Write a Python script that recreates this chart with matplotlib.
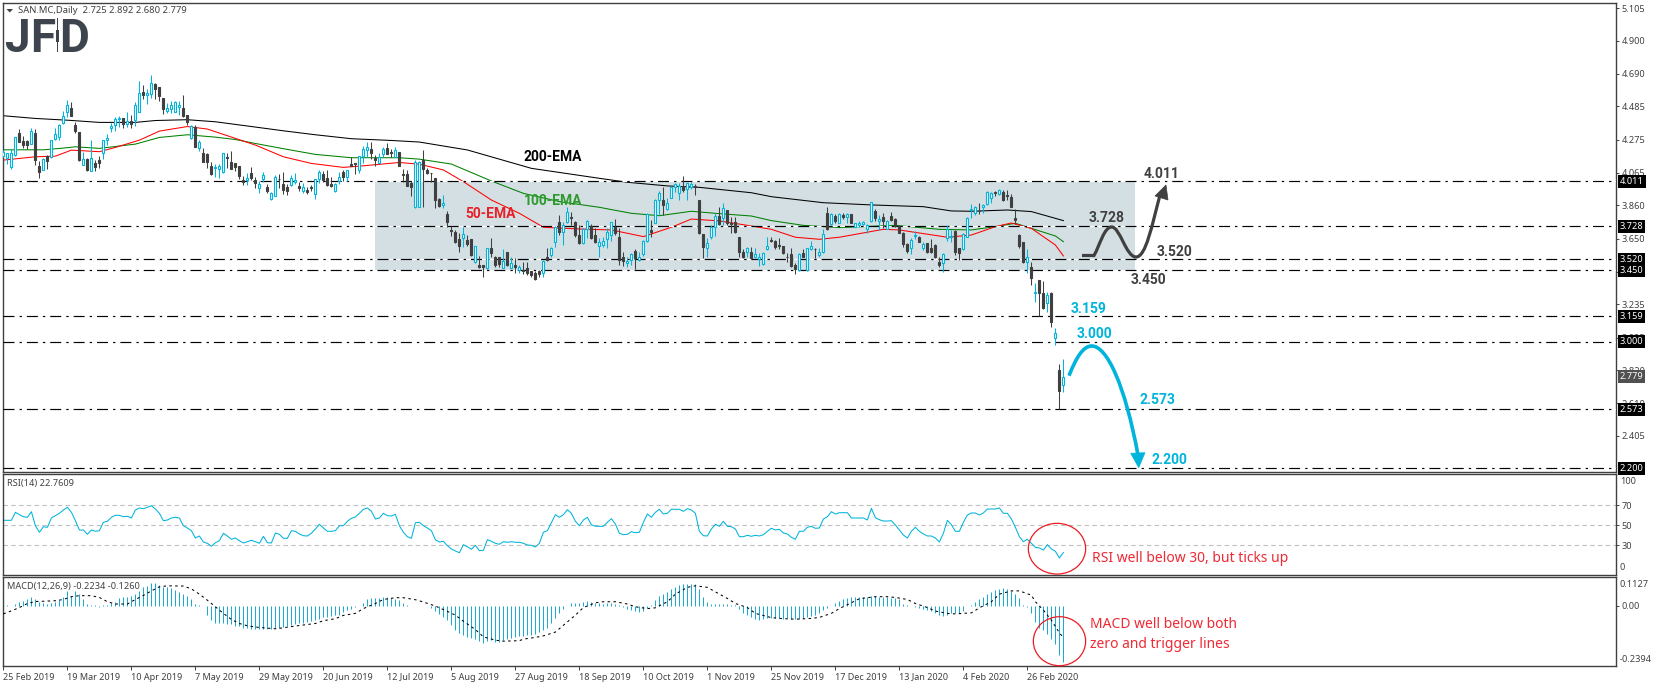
import numpy as np
import matplotlib
matplotlib.use("Agg")
import matplotlib.pyplot as plt
from matplotlib.patches import PathPatch, Polygon, Ellipse, Rectangle
from matplotlib.path import Path
from matplotlib.transforms import Affine2D

W, H = 1655, 687
plt.rcParams['font.family'] = ['Noto Sans', 'DejaVu Sans']

##========== price data ==========
opens = [4.171,4.161,4.104,4.178,4.314,4.268,4.266,4.249,4.316,4.108,
    4.085,4.171,4.163,4.281,4.293,4.382,4.451,4.474,4.365,4.323,
    4.117,4.154,4.079,4.127,4.144,4.194,4.274,4.346,4.365,4.403,
    4.409,4.371,4.390,4.398,4.451,4.575,4.554,4.565,4.626,4.605,
    4.535,4.459,4.468,4.451,4.483,4.472,4.428,4.287,4.354,4.224,
    4.194,4.184,4.108,4.093,4.091,4.072,4.165,4.131,4.125,4.108,
    4.018,4.022,4.062,4.018,3.972,4.028,3.976,3.902,3.921,4.028,
    3.995,3.976,3.988,4.009,3.980,3.953,3.955,3.976,3.934,4.026,
    4.056,4.033,3.993,3.953,4.016,4.068,4.039,4.119,4.125,4.085,
    4.169,4.211,4.215,4.161,4.127,4.184,4.224,4.197,4.165,4.197,
    4.058,4.056,4.003,3.847,3.848,4.147,4.084,4.067,4.031,3.901,
    3.863,3.806,3.705,3.690,3.646,3.652,3.642,3.646,3.501,3.484,
    3.484,3.463,3.589,3.537,3.533,3.467,3.568,3.467,3.484,3.453,
    3.453,3.463,3.446,3.432,3.446,3.436,3.537,3.547,3.631,3.758,
    3.694,3.753,3.789,3.758,3.673,3.621,3.709,3.730,3.673,3.606,
    3.610,3.648,3.673,3.726,3.663,3.537,3.499,3.516,3.572,3.516,
    3.551,3.636,3.705,3.751,3.894,3.894,3.835,3.909,3.978,3.940,
    3.982,3.962,3.974,3.982,3.894,3.680,3.589,3.663,3.722,3.793,
    3.783,3.831,3.747,3.758,3.659,3.568,3.564,3.568,3.533,3.520,
    3.488,3.583,3.642,3.636,3.608,3.604,3.537,3.553,3.484,3.453,
    3.558,3.453,3.583,3.587,3.547,3.568,3.810,3.741,3.793,3.751,
    3.802,3.789,3.804,3.726,3.737,3.745,3.709,3.762,3.825,3.760,
    3.785,3.713,3.793,3.774,3.730,3.688,3.617,3.594,3.667,3.663,
    3.594,3.621,3.589,3.610,3.501,3.499,3.652,3.663,3.699,3.589,
    3.583,3.663,3.831,3.814,3.827,3.852,3.869,3.905,3.945,3.934,
    3.947,3.924,3.913,3.779,3.673,3.627,3.501,3.474,3.310,3.387,
    3.305,3.246,3.307,3.021,2.822,2.725]
closes = [4.199,4.190,4.188,4.289,4.262,4.241,4.243,4.327,4.146,4.072,
    4.150,4.142,4.272,4.308,4.365,4.422,4.491,4.426,4.331,4.146,
    4.150,4.083,4.157,4.102,4.127,4.272,4.283,4.361,4.403,4.411,
    4.375,4.396,4.371,4.491,4.567,4.556,4.567,4.630,4.594,4.552,
    4.468,4.472,4.491,4.512,4.497,4.426,4.388,4.361,4.230,4.258,
    4.136,4.136,4.058,4.102,4.106,4.190,4.157,4.091,4.104,4.047,
    4.009,4.033,4.033,4.001,3.993,4.049,3.950,3.936,4.039,4.024,
    3.957,3.950,4.030,4.018,3.972,3.974,3.944,3.972,4.024,4.068,
    4.020,3.988,3.984,3.997,4.037,4.041,4.081,4.110,4.119,4.169,
    4.213,4.226,4.190,4.148,4.165,4.215,4.186,4.190,4.207,4.110,
    4.054,3.984,3.976,4.136,4.136,4.088,4.067,4.062,3.894,3.858,
    3.873,3.758,3.701,3.631,3.604,3.680,3.617,3.547,3.604,3.469,
    3.469,3.589,3.558,3.484,3.490,3.509,3.484,3.499,3.469,3.474,
    3.448,3.432,3.421,3.396,3.425,3.509,3.516,3.589,3.726,3.690,
    3.737,3.821,3.779,3.673,3.621,3.709,3.762,3.652,3.631,3.627,
    3.638,3.690,3.753,3.684,3.516,3.511,3.509,3.551,3.530,3.533,
    3.636,3.804,3.694,3.894,3.936,3.863,3.877,3.978,3.993,3.982,
    3.957,3.999,3.993,3.974,3.684,3.600,3.621,3.722,3.793,3.743,
    3.842,3.747,3.743,3.694,3.568,3.537,3.589,3.526,3.551,3.537,
    3.558,3.606,3.638,3.600,3.604,3.558,3.533,3.480,3.459,3.553,
    3.537,3.589,3.602,3.583,3.568,3.680,3.709,3.804,3.764,3.806,
    3.785,3.804,3.751,3.751,3.751,3.755,3.734,3.880,3.783,3.772,
    3.762,3.762,3.768,3.730,3.688,3.617,3.572,3.642,3.673,3.631,
    3.615,3.566,3.564,3.533,3.484,3.551,3.709,3.667,3.568,3.558,
    3.680,3.783,3.840,3.848,3.823,3.863,3.943,3.936,3.936,3.955,
    3.894,3.917,3.852,3.770,3.604,3.501,3.537,3.404,3.314,3.305,
    3.211,3.295,3.127,3.053,2.691,2.779]
highs = [4.209,4.190,4.213,4.293,4.342,4.297,4.272,4.346,4.340,4.142,
    4.159,4.178,4.276,4.346,4.371,4.455,4.525,4.512,4.388,4.323,
    4.199,4.157,4.272,4.146,4.171,4.276,4.310,4.382,4.415,4.424,
    4.409,4.451,4.430,4.514,4.644,4.619,4.598,4.682,4.634,4.605,
    4.535,4.508,4.520,4.518,4.520,4.556,4.430,4.365,4.367,4.276,
    4.220,4.192,4.136,4.119,4.121,4.194,4.194,4.203,4.125,4.108,
    4.047,4.062,4.100,4.037,4.016,4.070,3.995,3.946,4.049,4.058,
    4.068,3.995,4.051,4.066,4.005,3.999,3.978,3.988,4.024,4.083,
    4.079,4.083,4.041,4.003,4.072,4.083,4.083,4.163,4.125,4.171,
    4.236,4.258,4.258,4.178,4.192,4.226,4.251,4.213,4.226,4.197,
    4.089,4.083,4.016,4.146,4.142,4.210,4.094,4.067,4.031,3.909,
    3.926,3.827,3.730,3.705,3.684,3.726,3.673,3.646,3.604,3.541,
    3.484,3.589,3.652,3.541,3.537,3.583,3.568,3.537,3.526,3.484,
    3.505,3.505,3.448,3.448,3.453,3.516,3.589,3.600,3.730,3.800,
    3.758,3.852,3.821,3.764,3.737,3.715,3.768,3.743,3.715,3.652,
    3.659,3.715,3.758,3.772,3.715,3.568,3.537,3.558,3.585,3.568,
    3.642,3.810,3.768,3.898,3.953,3.978,3.905,3.982,4.004,4.004,
    4.046,4.004,4.010,3.995,3.894,3.680,3.652,3.737,3.810,3.852,
    3.873,3.831,3.789,3.789,3.659,3.583,3.600,3.600,3.589,3.558,
    3.568,3.659,3.659,3.642,3.652,3.606,3.562,3.589,3.499,3.558,
    3.583,3.593,3.636,3.593,3.589,3.709,3.848,3.810,3.806,3.810,
    3.810,3.810,3.806,3.751,3.762,3.764,3.743,3.882,3.835,3.800,
    3.810,3.768,3.816,3.779,3.737,3.694,3.621,3.652,3.699,3.667,
    3.631,3.625,3.646,3.615,3.533,3.558,3.737,3.705,3.705,3.593,
    3.684,3.789,3.867,3.856,3.877,3.869,3.949,3.947,3.953,3.962,
    3.957,3.957,3.932,3.835,3.680,3.631,3.583,3.505,3.369,3.389,
    3.385,3.316,3.312,3.084,2.860,2.892]
lows = [4.167,4.121,4.091,4.171,4.262,4.220,4.213,4.247,4.115,4.035,
    4.083,4.089,4.161,4.272,4.272,4.377,4.415,4.424,4.319,4.142,
    4.112,4.077,4.075,4.077,4.098,4.154,4.243,4.325,4.331,4.356,
    4.350,4.352,4.350,4.361,4.447,4.529,4.499,4.535,4.529,4.520,
    4.436,4.441,4.445,4.447,4.430,4.419,4.367,4.281,4.226,4.203,
    4.136,4.093,4.051,4.041,4.035,4.066,4.093,4.087,4.077,4.024,
    3.988,3.988,4.020,3.967,3.940,4.009,3.940,3.896,3.919,3.967,
    3.932,3.925,3.982,3.995,3.953,3.936,3.932,3.950,3.902,4.003,
    4.005,3.982,3.978,3.942,3.995,4.011,4.014,4.108,4.058,4.066,
    4.125,4.163,4.154,4.110,4.125,4.167,4.184,4.163,4.163,4.108,
    4.005,3.982,3.921,3.845,3.848,3.848,4.058,4.010,3.842,3.852,
    3.842,3.722,3.667,3.625,3.568,3.600,3.604,3.541,3.495,3.463,
    3.410,3.457,3.537,3.474,3.474,3.463,3.478,3.463,3.436,3.436,
    3.427,3.421,3.410,3.390,3.410,3.410,3.511,3.533,3.600,3.673,
    3.610,3.747,3.737,3.659,3.617,3.615,3.652,3.648,3.625,3.533,
    3.600,3.589,3.638,3.673,3.484,3.478,3.469,3.484,3.459,3.511,
    3.541,3.631,3.659,3.747,3.800,3.800,3.831,3.905,3.947,3.894,
    3.947,3.894,3.962,3.926,3.680,3.526,3.533,3.646,3.667,3.737,
    3.737,3.737,3.684,3.688,3.537,3.526,3.533,3.520,3.526,3.480,
    3.484,3.579,3.631,3.583,3.585,3.553,3.505,3.474,3.427,3.448,
    3.533,3.448,3.579,3.526,3.533,3.558,3.705,3.737,3.751,3.747,
    3.772,3.751,3.747,3.722,3.722,3.737,3.684,3.758,3.762,3.705,
    3.715,3.709,3.762,3.722,3.684,3.600,3.558,3.553,3.646,3.627,
    3.579,3.562,3.558,3.526,3.469,3.442,3.638,3.631,3.547,3.516,
    3.579,3.659,3.779,3.800,3.806,3.810,3.865,3.877,3.920,3.928,
    3.890,3.894,3.848,3.743,3.589,3.495,3.436,3.358,3.251,3.162,
    3.206,3.190,3.095,2.979,2.573,2.680]

#EMA lines, points
ema200_bars = [0,8,16,24,33,38,46,53,62,70,78,87,97,104,116,132,149,156,166,174,187,192,205,217,230,237,242,251,257,265]
ema200_vals = [4.426,4.409,4.398,4.384,4.384,4.396,4.401,4.388,4.358,4.331,4.306,4.281,4.270,4.260,4.210,4.094,4.031,4.006,3.983,3.974,3.940,3.915,3.877,3.863,3.852,3.825,3.823,3.831,3.821,3.764]
ema100_bars = [0,10,15,18,24,33,39,46,53,58,63,70,78,87,99,104,112,122,130,139,149,157,164,172,178,187,192,200,209,223,234,242,248,253,257,263,265]
ema100_vals = [4.211,4.211,4.222,4.230,4.220,4.247,4.289,4.306,4.291,4.276,4.251,4.218,4.182,4.161,4.161,4.152,4.121,4.014,3.936,3.884,3.848,3.810,3.795,3.823,3.810,3.793,3.764,3.734,3.720,3.734,3.709,3.705,3.726,3.747,3.715,3.667,3.631]
ema50_bars = [0,8,13,17,24,28,34,39,46,51,58,63,70,77,85,90,99,104,110,115,122,129,135,144,152,160,167,172,179,187,192,198,204,209,220,224,236,242,248,252,257,263,265]
ema50_vals = [4.146,4.167,4.171,4.209,4.199,4.226,4.272,4.329,4.358,4.342,4.283,4.241,4.167,4.125,4.100,4.110,4.131,4.120,4.084,4.010,3.894,3.810,3.722,3.711,3.705,3.663,3.722,3.774,3.762,3.730,3.709,3.659,3.646,3.659,3.709,3.705,3.659,3.673,3.726,3.749,3.715,3.610,3.541]

levels = [4.011, 3.728, 3.520, 3.450, 3.159, 3.000, 2.573, 2.200]
last_price = 2.779
price_ticks = [5.105,4.900,4.690,4.485,4.275,4.065,3.860,3.650,3.440,3.235,3.025,2.820,2.610,2.405]

##========== indicators ==========
rsi = [55.0,55.0,55.0,63.0,60.6,58.6,58.0,63.6,49.6,43.0,48.6,48.0,57.3,59.6,62.0,65.3,68.0,63.0,54.6,45.3,45.3,41.0,45.3,44.0,44.6,53.0,54.0,58.0,60.0,60.0,
    58.6,59.0,57.3,65.3,67.3,66.6,68.0,69.6,66.3,62.0,54.6,55.3,57.3,58.0,57.3,49.6,47.3,44.6,37.3,39.3,33.3,32.0,29.0,32.6,34.6,42.0,39.3,36.0,37.3,34.6,
    32.3,33.6,35.0,33.6,32.0,39.0,32.6,32.3,42.3,41.0,37.0,37.0,44.6,44.0,41.3,39.6,39.3,42.0,46.3,51.0,47.3,44.0,44.0,44.6,49.6,49.6,54.0,57.0,58.3,62.0,
    66.0,67.3,64.0,56.3,57.3,62.0,59.6,59.3,61.0,49.6,43.0,38.6,37.0,52.6,53.0,49.6,47.3,44.6,35.6,33.3,34.0,29.6,26.3,24.3,22.6,30.6,28.6,26.0,30.0,24.6,
    25.0,35.6,34.0,32.0,31.0,33.6,33.0,33.6,33.0,33.0,
    32.0,30.3,30.0,28.3,32.0,43.0,44.6,52.6,60.6,58.0,60.6,65.6,62.0,54.0,49.6,55.3,58.0,50.6,49.0,49.0,49.0,53.0,56.6,51.3,42.0,40.6,41.0,43.6,42.6,43.0,
    53.0,61.3,58.0,63.0,66.0,61.3,62.0,66.0,66.0,66.0,64.0,66.6,65.3,62.0,44.0,39.6,39.3,46.3,51.0,49.0,54.0,49.0,48.6,46.3,38.6,38.6,40.0,39.0,40.0,39.3,
    40.6,44.0,47.0,45.3,46.0,42.3,41.3,38.0,36.0,44.0,44.0,48.0,49.0,47.0,47.3,56.3,58.6,63.6,61.3,62.6,62.6,62.6,57.3,57.3,57.3,57.3,55.3,67.0,57.6,55.6,
    54.3,54.3,54.6,50.3,45.3,40.3,37.3,44.0,48.0,44.0,41.3,39.3,39.3,37.3,33.3,42.0,55.0,50.6,44.0,44.0,53.0,60.3,62.3,62.3,60.3,62.3,66.3,66.3,66.3,67.3,
    62.0,62.0,56.3,48.0,38.6,33.6,36.0,32.0,28.0,27.3,25.3,30.6,26.3,24.0,17.3,22.76]

macd = [.005,.005,0,.009,.016,.020,.025,.033,.025,.016,.012,.009,.013,.016,.022,.033,.058,.040,.058,.046,
    .025,.009,.004,.003,-.004,.005,.003,.012,.016,.029,.033,.033,.040,.046,.059,.073,.080,.091,.091,.084,
    .075,.075,.069,.062,.055,.046,.038,.025,.009,.004,.001,-.037,-.057,-.067,-.070,-.070,-.071,-.073,-.078,-.080,
    -.086,-.088,-.091,-.091,-.091,-.091,-.091,-.090,-.088,-.086,-.083,-.080,-.077,-.073,-.070,-.067,-.065,-.062,-.057,-.054,
    -.046,-.044,-.041,-.038,-.036,-.024,-.017,-.011,-.004,.001,.012,.028,.029,.029,.029,.033,.033,.029,.025,.022,
    .012,.004,.001,.001,.001,0,.001,-.007,-.020,-.033,-.046,-.057,-.077,-.094,-.109,-.115,-.125,-.129,-.132,-.140,
    -.149,-.140,-.136,-.142,-.142,-.136,-.132,-.129,-.123,-.120,
    -.119,-.116,-.116,-.113,-.103,-.096,-.086,-.070,-.050,-.030,-.011,-.001,.012,.012,.012,.015,.020,.015,.012,.012,
    .009,.012,.012,.009,.005,-.004,-.011,-.015,-.020,-.024,-.020,-.007,.005,.022,.038,.046,.055,.067,.073,.082,
    .086,.088,.088,.086,.065,.036,.016,.009,.008,.008,.007,.007,.004,.003,-.011,-.028,-.038,-.044,-.053,-.057,
    -.053,-.050,-.050,-.047,-.047,-.051,-.050,-.051,-.053,-.051,-.050,-.046,-.041,-.036,-.030,-.017,-.007,.001,.012,.020,
    .028,.032,.033,.033,.033,.036,.036,.038,.038,.036,.036,.033,.032,.029,.025,.007,.003,0,-.004,-.007,
    -.011,-.015,-.020,-.028,-.037,-.041,-.037,-.030,-.028,-.028,-.020,-.001,.003,.016,.025,.033,.046,.055,.062,.067,
    .069,.067,.059,.046,.029,.004,-.004,-.030,-.063,-.086,-.096,-.113,-.132,-.152,-.195,-.2234]

signal_bars = [0,2,4,6,8,10,13,15,17,19,22,24,26,28,31,33,35,37,39,41,45,47,49,51,53,55,57,59,61,63,65,68,70,73,75,78,80,83,85,88,90,93,95,98,100,103,105,108,110,113,115,118,120,123,125,129,
    130,133,135,138,140,143,145,148,150,153,156,158,161,163,166,168,171,173,176,178,181,183,186,188,192,195,198,202,204,207,209,212,214,218,221,223,226,228,231,233,236,238,242,244,247,249,252,254,257,258,260,262,264,265]
signal_vals = [-.032,-.020,-.007,.009,.017,.018,.020,.025,.036,.040,.040,.033,.016,.007,.007,.025,.041,.059,.075,.079,.078,.067,.046,.022,-.004,-.030,-.054,-.070,-.079,-.084,-.087,-.091,-.087,-.080,-.076,-.070,-.059,-.051,-.038,-.030,-.011,.009,.025,.032,.032,.024,.015,-.001,-.015,-.037,-.061,-.094,-.123,-.136,-.140,-.138,
    -.132,-.125,-.119,-.104,-.077,-.037,-.007,.012,.016,.016,.007,-.004,-.011,-.008,.016,.046,.073,.079,.073,.055,.029,.009,-.007,-.030,-.047,-.051,-.053,-.050,-.046,-.030,-.011,.012,.028,.036,.036,.033,.025,.009,-.007,-.021,-.030,-.032,-.028,-.008,.016,.046,.059,.059,.042,.016,-.017,-.057,-.107,-.126]

date_labels = ['25 Feb 2019','19 Mar 2019','10 Apr 2019','7 May 2019','29 May 2019','20 Jun 2019','12 Jul 2019','5 Aug 2019','27 Aug 2019',
    '18 Sep 2019','10 Oct 2019','1 Nov 2019','25 Nov 2019','17 Dec 2019','13 Jan 2020','4 Feb 2020','26 Feb 2020']

##========== layout helpers ==========
CYAN = '#00b4dc'
DARK = '#404040'
RED = '#ec1c24'
TICK_FONT = 6.6

fig = plt.figure(figsize=(W/100, H/100), dpi=100, facecolor='white')
PX = Affine2D().scale(1/W, -1/H).translate(0, 1) + fig.transFigure

def pane(top, bottom):
    left, right = 2.5, 1615.5
    ax = fig.add_axes([left/W, 1-bottom/H, (right-left)/W, (bottom-top)/H])
    ax.set_xlim(-0.225, 403.03)
    for s in ax.spines.values():
        s.set_color(DARK)
        s.set_linewidth(1.0)
    ax.yaxis.tick_right()
    ax.tick_params(axis='y', length=2, width=0.7, color=DARK, labelcolor=DARK, labelsize=TICK_FONT, pad=2.5)
    ax.set_xticks([])
    return ax

def px_text(x, y, s, **kw):
    kw.setdefault('va', 'center')
    fig.text(x/W, 1-y/H, s, **kw)

##========== price pane ==========
ax = pane(2.5, 472.3)
ax.set_ylim(2.175, 5.141)
ax.set_yticks(price_ticks)
ax.set_yticklabels([f'{v:.3f}' for v in price_ticks])

# shaded range between 3.450 and 4.011
ax.add_patch(Rectangle((93.0, levels[3]), 189.9, levels[0]-levels[3], facecolor='#d3dfe3', edgecolor='none', zorder=1))

bars = np.arange(len(opens))
ax.plot(ema200_bars, ema200_vals, color='black', lw=0.75, zorder=2)
ax.plot(ema100_bars, ema100_vals, color='#008000', lw=0.75, zorder=2)
ax.plot(ema50_bars, ema50_vals, color='#ff0000', lw=0.75, zorder=2)

for lv in levels:
    ax.axhline(lv, color='black', lw=0.85, linestyle=(0, (9.3, 4.3, 2, 4.2)), gapcolor='white', zorder=3)

up = np.array(closes) >= np.array(opens)
opens_a, closes_a = np.array(opens), np.array(closes)
ax.vlines(bars[up], np.array(lows)[up], np.array(highs)[up], color=CYAN, lw=0.75, zorder=4)
ax.vlines(bars[~up], np.array(lows)[~up], np.array(highs)[~up], color=DARK, lw=0.75, zorder=4)
ax.bar(bars[up], (closes_a-opens_a)[up], bottom=opens_a[up], width=0.55, facecolor='white', edgecolor=CYAN, lw=0.8, zorder=5)
ax.bar(bars[~up], (opens_a-closes_a)[~up], bottom=closes_a[~up], width=0.55, facecolor=DARK, edgecolor=DARK, lw=0.8, zorder=5)

# price boxes on the right axis
for lv in levels:
    ax.text(1.0026, lv, f'{lv:.3f}', transform=ax.get_yaxis_transform(), clip_on=False, color='white', fontsize=TICK_FONT, va='center', ha='left',
            bbox=dict(boxstyle='square,pad=0.22', facecolor='black', edgecolor='none'), zorder=8)
ax.text(1.0026, last_price, f'{last_price:.3f}', transform=ax.get_yaxis_transform(), clip_on=False, color='white', fontsize=TICK_FONT, va='center', ha='left',
        bbox=dict(boxstyle='square,pad=0.22', facecolor='#505050', edgecolor='none'), zorder=8)

##========== RSI pane ==========
ax2 = pane(474.3, 575.3)
ax2.set_ylim(0, 101)
ax2.set_yticks([70, 50, 30])
ax2.set_yticklabels(['70', '50', '30'])
for lv in [70, 50, 30]:
    ax2.axhline(lv, color='#c0c0c0', lw=0.8, linestyle=(0, (4, 3)), zorder=1)
ax2.plot(np.arange(len(rsi)), rsi, color=CYAN, lw=0.75, zorder=2)
px_text(1620, 481, '100', color=DARK, fontsize=TICK_FONT)
px_text(1620, 568, '0', color=DARK, fontsize=TICK_FONT)
px_text(7, 483.3, 'RSI(14) 22.7609', color=DARK, fontsize=TICK_FONT)

##========== MACD pane ==========
ax3 = pane(577.3, 666.3)
ax3.set_ylim(-0.2394, 0.1127)
ax3.set_yticks([0])
ax3.set_yticklabels(['0.00'])
ax3.vlines(np.arange(len(macd)), 0, macd, color='#1ca9d2', lw=0.72, zorder=2)
ax3.plot(signal_bars, signal_vals, color='black', lw=0.75, linestyle=(0, (2.4, 3.2)), zorder=3)
px_text(1620, 584.3, '0.1127', color=DARK, fontsize=TICK_FONT)
px_text(1620, 659.3, '-0.2394', color=DARK, fontsize=TICK_FONT)
px_text(7, 586.7, 'MACD(12,26,9) -0.2234 -0.1260', color=DARK, fontsize=TICK_FONT)

ax3.set_xticks(np.arange(len(date_labels))*16)
ax3.set_xticklabels(date_labels, ha='left')
ax3.tick_params(axis='x', length=3, width=0.7, color=DARK, labelcolor=DARK, labelsize=6.5, pad=1.5)

##========== header and logo ==========
fig.add_artist(Polygon([(6.5, 9), (13, 9), (9.8, 12.5)], closed=True, transform=PX, facecolor=DARK, edgecolor='none'))
px_text(18, 10.7, 'SAN.MC,Daily  2.725 2.892 2.680 2.779', color=DARK, fontsize=TICK_FONT+0.2)
LOGO = '#3d444d'
for x, s in [(17, 'J'), (43, 'F'), (74, 'D')]:
    px_text(x, 52, s, color=LOGO, fontsize=33, fontweight='bold', family=['Liberation Sans Narrow', 'Roboto'], ha='center', va='baseline')
fig.add_artist(Rectangle((57.2, 18), 1.2, 34, transform=PX, facecolor=LOGO, edgecolor='none'))
fig.add_artist(Rectangle((56.2, 30), 3.2, 12, transform=PX, facecolor=LOGO, edgecolor='none'))

##========== hand drawn labels ==========
BOLD = dict(fontsize=10, fontweight='bold', family=['Roboto', 'DejaVu Sans'])
px_text(553, 157, '200-EMA', color='black', ha='center', **BOLD)
px_text(553, 201, '100-EMA', color='#2e9a2e', ha='center', **BOLD)
px_text(491, 214, '50-EMA', color='#e8202a', ha='center', **BOLD)
for x, y, s in [(1144, 174, '4.011'), (1089, 218, '3.728'), (1157, 252, '3.520'), (1131, 280, '3.450')]:
    px_text(x, y, s, color=DARK, **BOLD)
for x, y, s in [(1071, 309, '3.159'), (1077, 334, '3.000'), (1140, 400, '2.573'), (1151, 460, '2.200')]:
    px_text(x, y, s, color=CYAN, **BOLD)

# path up to 4.011
codes = [Path.MOVETO, Path.LINETO] + [Path.CURVE4]*9
verts = [(1082, 255.5), (1094, 255.5), (1100, 245), (1104, 227), (1111.7, 227), (1120, 227), (1126, 257), (1136, 257), (1146, 257), (1152, 225), (1160, 195)]
fig.add_artist(PathPatch(Path(verts, codes), transform=PX, facecolor='none', edgecolor=DARK, lw=2.3))
fig.add_artist(Polygon([(1155, 196), (1168, 200), (1166, 185)], closed=True, transform=PX, facecolor=DARK, edgecolor=DARK, lw=0.5))

# path down to 2.200
codes = [Path.MOVETO] + [Path.CURVE4]*6
verts = [(1069, 375.7), (1076, 358), (1083, 346), (1091.7, 346), (1107, 346), (1125, 385), (1138, 455)]
fig.add_artist(PathPatch(Path(verts, codes), transform=PX, facecolor='none', edgecolor=CYAN, lw=2.6))
fig.add_artist(Polygon([(1130.7, 453.3), (1145, 452.7), (1138.7, 467.7)], closed=True, transform=PX, facecolor=CYAN, edgecolor=CYAN, lw=0.5))

fig.add_artist(Ellipse((1057, 548.7), 57.3, 50.7, transform=PX, facecolor='none', edgecolor=RED, lw=0.9))
fig.add_artist(Ellipse((1059.5, 641.2), 52.3, 49, transform=PX, facecolor='none', edgecolor=RED, lw=0.9))
NOTE = dict(color='#ee2a35', fontsize=10)
px_text(1091.5, 558.3, 'RSI well below 30, but ticks up', **NOTE)
px_text(1090.5, 625, 'MACD well below both', **NOTE)
px_text(1090, 644, 'zero and trigger lines', **NOTE)

fig.savefig('out.png', dpi=100)
